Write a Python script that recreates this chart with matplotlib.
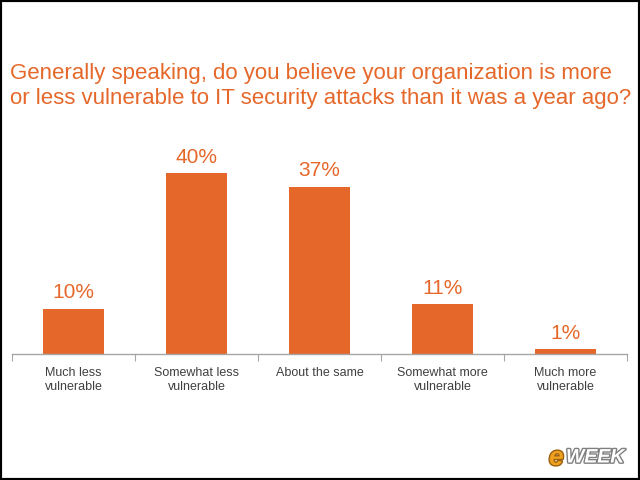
import matplotlib
matplotlib.use("Agg")
import matplotlib.pyplot as plt
import matplotlib.patheffects as pe
from matplotlib.patches import Rectangle

categories = ["Much less\nvulnerable", "Somewhat less\nvulnerable", "About the same",
              "Somewhat more\nvulnerable", "Much more\nvulnerable"]
values = [10, 40, 37, 11, 1]
value_labels = ["10%", "40%", "37%", "11%", "1%"]
title = ("Generally speaking, do you believe your organization is more\n"
         "or less vulnerable to IT security attacks than it was a year ago?")

orange = "#E5682A"
plt.rcParams['font.family'] = ['Liberation Sans', 'DejaVu Sans']

fig = plt.figure(figsize=(6.4, 4.8), dpi=100)
fig.patch.set_facecolor("white")
ax = fig.add_axes([12/640, 1 - 354/480, 615/640, 226/480])

x = list(range(len(values)))
ax.bar(x, values, width=0.5, color=orange, zorder=2)
for xi, v, lab in zip(x, values, value_labels):
    ax.text(xi, v + 1.4, lab, ha="center", va="bottom", fontsize=15, color=orange)

ax.set_xlim(-0.5, len(values) - 0.5)
ax.set_ylim(0, 50)
for s in ["top", "right", "left"]:
    ax.spines[s].set_visible(False)
ax.spines["bottom"].set_color("#a6a6a6")
ax.spines["bottom"].set_linewidth(1.0)
ax.set_yticks([])
ax.set_xticks([i - 0.5 for i in range(len(values) + 1)])
ax.set_xticklabels([])
ax.tick_params(axis="x", which="major", length=5, color="#a6a6a6", direction="out")
ax.set_xticks(x, minor=True)
ax.set_xticklabels(categories, minor=True, fontsize=9, color="#404040", linespacing=1.25)
ax.tick_params(axis="x", which="minor", length=0, pad=9)

fig.text(10/640, 1 - 86/480, title, ha="left", va="center", fontsize=16,
         color=orange, linespacing=1.2)

# border
fig.patches.append(Rectangle((0, 0), 1, 1, transform=fig.transFigure, fill=False,
                             edgecolor="black", linewidth=3, zorder=10))

# logo
t1 = fig.text(549/640, 1 - 458/480, "e", fontsize=19, fontweight="bold", style="italic",
              color="#F0A020", ha="left", va="center")
t1.set_path_effects([pe.withStroke(linewidth=2, foreground="#9a6010")])
t2 = fig.text(566/640, 1 - 458/480, "WEEK", fontsize=14, fontweight="bold", style="italic",
              color="white", ha="left", va="center")
t2.set_path_effects([pe.withStroke(linewidth=2, foreground="#808080")])

fig.savefig("out.png", dpi=100, facecolor="white")
